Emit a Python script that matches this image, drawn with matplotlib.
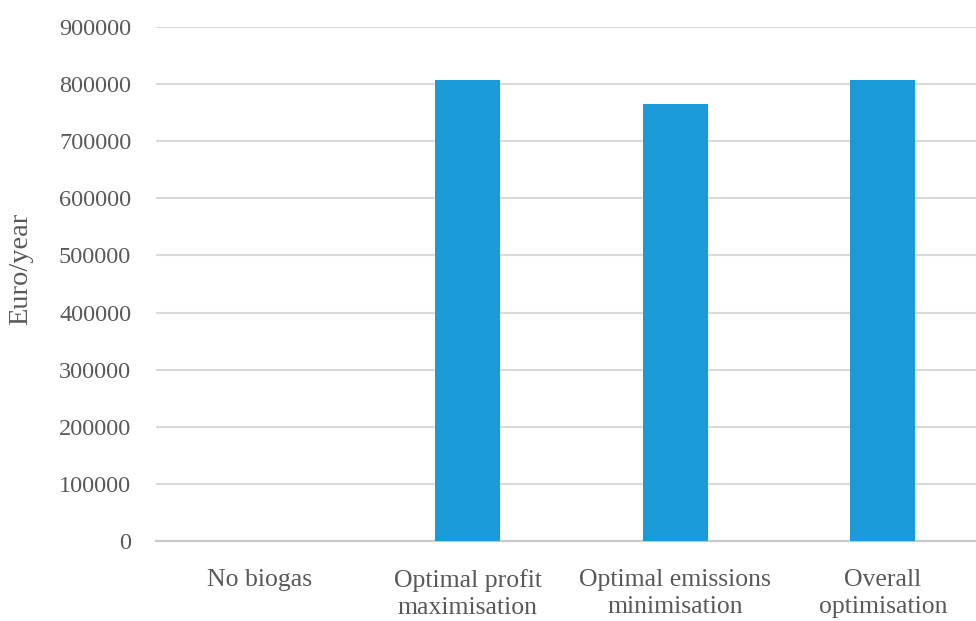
import matplotlib
matplotlib.use("Agg")
import matplotlib.pyplot as plt
import numpy as np

categories = ["No biogas", "Optimal profit\nmaximisation",
              "Optimal emissions\nminimisation", "Overall\noptimisation"]
values = [0, 807000, 765000, 808000]
yticks = [0, 100000, 200000, 300000, 400000, 500000, 600000, 700000, 800000, 900000]

plt.rcParams["font.family"] = ["Liberation Serif", "DejaVu Serif"]

fig = plt.figure(figsize=(9.76, 6.21), dpi=100)
ax = fig.add_axes([0.16, 0.1288, 0.851, 0.8277])

x = np.arange(len(categories))
ax.bar(x, values, width=0.313, color="#1A9AD6", zorder=3)

ax.set_xlim(-0.5, len(categories) - 0.5)
ax.set_ylim(0, 900000)
ax.set_yticks(yticks)
ax.set_yticklabels([str(v) for v in yticks])
ax.set_xticks(x)
ax.set_xticklabels(categories, linespacing=1.3)

ax.yaxis.grid(True, color="#d9d9d9", linewidth=1.5, zorder=0)
ax.set_axisbelow(True)
for s in ["top", "right", "left"]:
    ax.spines[s].set_visible(False)
ax.spines["bottom"].set_color("#c8c8c8")
ax.spines["bottom"].set_linewidth(1.5)

ax.tick_params(axis="y", length=0, labelsize=17.5, colors="#595959", pad=18)
ax.tick_params(axis="x", length=0, labelsize=18.5, colors="#595959", pad=20)

ax.set_ylabel("Euro/year", fontsize=20.5, color="#595959")
ax.yaxis.set_label_coords(-0.148, 0.53)

fig.savefig("out.png", dpi=100)
